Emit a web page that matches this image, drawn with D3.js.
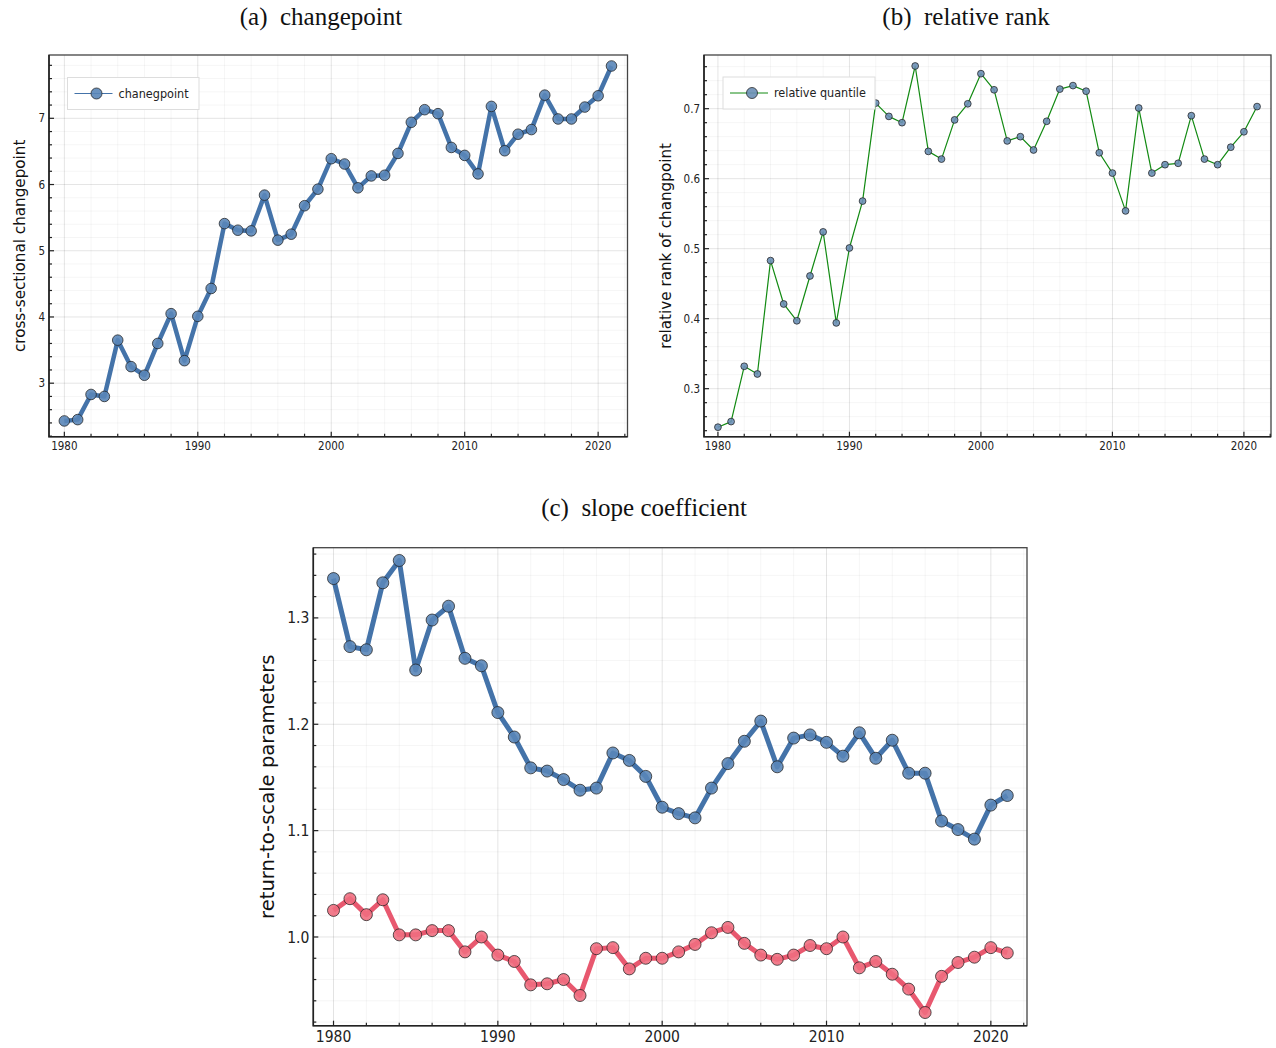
<!DOCTYPE html>
<html>
<head>
<meta charset="utf-8">
<script src="https://cdn.jsdelivr.net/npm/d3@7"></script>
<style>
  body { margin: 0; background: #fff; }
  svg { display: block; }
</style>
</head>
<body>
<svg id="chart" width="1276" height="1048"></svg>
<script>
// years on the x axis
const years = [1980, 1981, 1982, 1983, 1984, 1985, 1986, 1987, 1988, 1989,
               1990, 1991, 1992, 1993, 1994, 1995, 1996, 1997, 1998, 1999,
               2000, 2001, 2002, 2003, 2004, 2005, 2006, 2007, 2008, 2009,
               2010, 2011, 2012, 2013, 2014, 2015, 2016, 2017, 2018, 2019,
               2020, 2021];

// (a) cross-sectional changepoint
const changepoint = [2.43, 2.45, 2.83, 2.80, 3.65, 3.25, 3.12, 3.60, 4.05, 3.34,
                     4.01, 4.43, 5.41, 5.31, 5.30, 5.84, 5.16, 5.25, 5.68, 5.93,
                     6.39, 6.31, 5.95, 6.13, 6.14, 6.47, 6.94, 7.13, 7.07, 6.56,
                     6.44, 6.16, 7.18, 6.51, 6.76, 6.83, 7.35, 6.99, 6.99, 7.17,
                     7.34, 7.79];

// (b) relative rank of changepoint
const relQuantile = [0.245, 0.253, 0.332, 0.321, 0.483, 0.421, 0.397, 0.461, 0.524, 0.394,
                     0.501, 0.568, 0.708, 0.689, 0.680, 0.761, 0.639, 0.628, 0.684, 0.707,
                     0.750, 0.727, 0.654, 0.660, 0.641, 0.682, 0.728, 0.733, 0.725, 0.637,
                     0.608, 0.554, 0.701, 0.608, 0.620, 0.622, 0.690, 0.628, 0.620, 0.645,
                     0.667, 0.703];

// (c) slope coefficients, upper (blue) and lower (red) regime
const slopeUpper = [1.337, 1.273, 1.270, 1.333, 1.354, 1.251, 1.298, 1.311, 1.262, 1.255,
                    1.211, 1.188, 1.159, 1.156, 1.148, 1.138, 1.140, 1.173, 1.166, 1.151,
                    1.122, 1.116, 1.112, 1.140, 1.163, 1.184, 1.203, 1.160, 1.187, 1.190,
                    1.183, 1.170, 1.192, 1.168, 1.185, 1.154, 1.154, 1.109, 1.101, 1.092,
                    1.124, 1.133];
const slopeLower = [1.025, 1.036, 1.021, 1.035, 1.002, 1.002, 1.006, 1.006, 0.986, 1.000,
                    0.983, 0.977, 0.955, 0.956, 0.960, 0.945, 0.989, 0.990, 0.970, 0.980,
                    0.980, 0.986, 0.993, 1.004, 1.009, 0.994, 0.983, 0.979, 0.983, 0.992,
                    0.989, 1.000, 0.971, 0.977, 0.965, 0.951, 0.929, 0.963, 0.976, 0.981,
                    0.990, 0.985];

// tick labels
const xTicks = [1980, 1990, 2000, 2010, 2020];
const yTicksA = [3, 4, 5, 6, 7];
const yTicksB = [0.3, 0.4, 0.5, 0.6, 0.7];
const yTicksC = [1.0, 1.1, 1.2, 1.3];

const svg = d3.select("#chart");
const tickFont = "'DejaVu Sans Condensed', 'DejaVu Sans', sans-serif";
const labelFont = "'DejaVu Sans', sans-serif";
const titleFont = "'Liberation Serif', 'DejaVu Serif', serif";

function drawPanel(p) {
    const g = svg.append("g");
    const x = d3.scaleLinear().domain(p.xDomain).range([p.left, p.right]);
    const y = d3.scaleLinear().domain(p.yDomain).range([p.bottom, p.top]);

    // minor ticks: 5 subdivisions of each major step
    const xMinor = d3.range(1970, 2031, 2).filter(v => v >= p.xDomain[0] && v <= p.xDomain[1]);
    const yMinor = d3.range(-100, 200).map(i => +(i * p.yMinorStep).toFixed(4))
        .filter(v => v >= p.yDomain[0] && v <= p.yDomain[1]);

    // grid
    g.selectAll(".xminor").data(xMinor).enter().append("line")
        .attr("x1", d => x(d)).attr("x2", d => x(d))
        .attr("y1", p.top).attr("y2", p.bottom)
        .attr("stroke", "#000").attr("stroke-opacity", 0.04);
    g.selectAll(".yminor").data(yMinor).enter().append("line")
        .attr("x1", p.left).attr("x2", p.right)
        .attr("y1", d => y(d)).attr("y2", d => y(d))
        .attr("stroke", "#000").attr("stroke-opacity", 0.04);
    g.selectAll(".xgrid").data(xTicks).enter().append("line")
        .attr("x1", d => x(d)).attr("x2", d => x(d))
        .attr("y1", p.top).attr("y2", p.bottom)
        .attr("stroke", "#000").attr("stroke-opacity", 0.07);
    g.selectAll(".ygrid").data(p.yTicks).enter().append("line")
        .attr("x1", p.left).attr("x2", p.right)
        .attr("y1", d => y(d)).attr("y2", d => y(d))
        .attr("stroke", "#000").attr("stroke-opacity", 0.07);

    // series
    p.series.forEach(s => {
        const pts = years.map((yr, i) => [yr, s.values[i]]);
        g.append("path")
            .datum(pts)
            .attr("fill", "none")
            .attr("stroke", s.line)
            .attr("stroke-width", s.lineWidth)
            .attr("stroke-linejoin", "round")
            .attr("d", d3.line().x(d => x(d[0])).y(d => y(d[1])));
        g.selectAll(null).data(pts).enter().append("circle")
            .attr("cx", d => x(d[0]))
            .attr("cy", d => y(d[1]))
            .attr("r", s.r)
            .attr("fill", s.fill)
            .attr("fill-opacity", 0.9)
            .attr("stroke", "#222")
            .attr("stroke-opacity", 0.75)
            .attr("stroke-width", 1);
    });

    // frame
    g.append("rect")
        .attr("x", p.left).attr("y", p.top)
        .attr("width", p.right - p.left).attr("height", p.bottom - p.top)
        .attr("fill", "none").attr("stroke", "#444").attr("stroke-width", 1.3);
    g.append("path")
        .attr("d", `M${p.left},${p.top}V${p.bottom}H${p.right}`)
        .attr("fill", "none").attr("stroke", "#222").attr("stroke-width", 1.6);

    // ticks (inward)
    g.selectAll(".xt").data(xMinor).enter().append("line")
        .attr("x1", d => x(d)).attr("x2", d => x(d))
        .attr("y1", p.bottom).attr("y2", d => p.bottom - (xTicks.includes(d) ? 5 : 3))
        .attr("stroke", "#222").attr("stroke-width", 1.2);
    g.selectAll(".yt").data(yMinor).enter().append("line")
        .attr("x1", p.left).attr("x2", d => p.left + (p.yTicks.some(t => Math.abs(t - d) < 1e-6) ? 5 : 3))
        .attr("y1", d => y(d)).attr("y2", d => y(d))
        .attr("stroke", "#222").attr("stroke-width", 1.2);

    // tick labels
    g.selectAll(".xl").data(xTicks).enter().append("text")
        .attr("x", d => x(d)).attr("y", p.bottom + 4 + p.tickSize * 0.8)
        .attr("text-anchor", "middle")
        .attr("font-family", tickFont).attr("font-size", p.tickSize)
        .attr("fill", "#222")
        .text(d => d);
    g.selectAll(".yl").data(p.yTicks).enter().append("text")
        .attr("x", p.left - 4).attr("y", d => y(d))
        .attr("dy", "0.36em")
        .attr("text-anchor", "end")
        .attr("font-family", tickFont).attr("font-size", p.tickSize)
        .attr("fill", "#222")
        .text(d => p.yFormat(d));

    // axis label
    g.append("text")
        .attr("transform", `translate(${p.ylabelX},${(p.top + p.bottom) / 2}) rotate(-90)`)
        .attr("text-anchor", "middle")
        .attr("dy", "0.35em")
        .attr("font-family", labelFont).attr("font-size", p.ylabelSize)
        .attr("fill", "#111")
        .text(p.ylabel);

    // title
    svg.append("text")
        .attr("x", p.titleX).attr("y", p.titleY)
        .attr("text-anchor", "middle")
        .attr("font-family", titleFont).attr("font-size", 25)
        .attr("fill", "#111")
        .attr("xml:space", "preserve")
        .text(p.title);

    // legend
    if (p.legend) {
        const L = p.legend;
        const lg = g.append("g").attr("transform", `translate(${L.x},${L.y})`);
        lg.append("rect")
            .attr("width", L.w).attr("height", 32)
            .attr("fill", "#fff").attr("stroke", "#ddd").attr("stroke-width", 1);
        const s = p.series[0];
        lg.append("line")
            .attr("x1", 7).attr("x2", 45).attr("y1", 16).attr("y2", 16)
            .attr("stroke", s.line).attr("stroke-width", 1);
        lg.append("circle")
            .attr("cx", 29).attr("cy", 16).attr("r", 5.5)
            .attr("fill", s.fill).attr("fill-opacity", 0.9)
            .attr("stroke", "#222").attr("stroke-opacity", 0.75);
        lg.append("text")
            .attr("x", 51).attr("y", 16).attr("dy", "0.35em")
            .attr("font-family", tickFont).attr("font-size", 12.5)
            .attr("fill", "#222")
            .text(L.text);
    }
}

const blue = "#4473a9", blueFill = "#5a86b8";
const red = "#e8586f", redFill = "#ef6e80";

drawPanel({
    left: 49, right: 627.5, top: 55, bottom: 436.7,
    xDomain: [1978.85, 2022.2], yDomain: [2.192, 7.956],
    yTicks: yTicksA, yMinorStep: 0.2, yFormat: d => d,
    tickSize: 11.5,
    series: [{values: changepoint, line: blue, fill: blueFill, lineWidth: 4.5, r: 5.3}],
    ylabel: "cross-sectional changepoint", ylabelX: 20, ylabelSize: 15.2,
    title: "(a)  changepoint", titleX: 321, titleY: 25,
    legend: {x: 67.5, y: 77.5, w: 131.5, text: "chanegpoint"}
});

drawPanel({
    left: 704, right: 1271, top: 55, bottom: 436.7,
    xDomain: [1978.94, 2022.06], yDomain: [0.2314, 0.7767],
    yTicks: yTicksB, yMinorStep: 0.02, yFormat: d3.format(".1f"),
    tickSize: 11.5,
    series: [{values: relQuantile, line: "#128a12", fill: "#6b8fb6", lineWidth: 1.2, r: 3.4}],
    ylabel: "relative rank of changpoint", ylabelX: 666, ylabelSize: 15.2,
    title: "(b)  relative rank", titleX: 966, titleY: 25,
    legend: {x: 723, y: 77, w: 152, text: "relative quantile"}
});

drawPanel({
    left: 313.3, right: 1027, top: 547.7, bottom: 1025.7,
    xDomain: [1978.77, 2022.2], yDomain: [0.9166, 1.366],
    yTicks: yTicksC, yMinorStep: 0.02, yFormat: d3.format(".1f"),
    tickSize: 15.5,
    series: [
        {values: slopeUpper, line: blue, fill: blueFill, lineWidth: 5, r: 6},
        {values: slopeLower, line: red, fill: redFill, lineWidth: 5, r: 6}
    ],
    ylabel: "return-to-scale parameters", ylabelX: 267, ylabelSize: 19.6,
    title: "(c)  slope coefficient", titleX: 644, titleY: 516
});
</script>
</body>
</html>
